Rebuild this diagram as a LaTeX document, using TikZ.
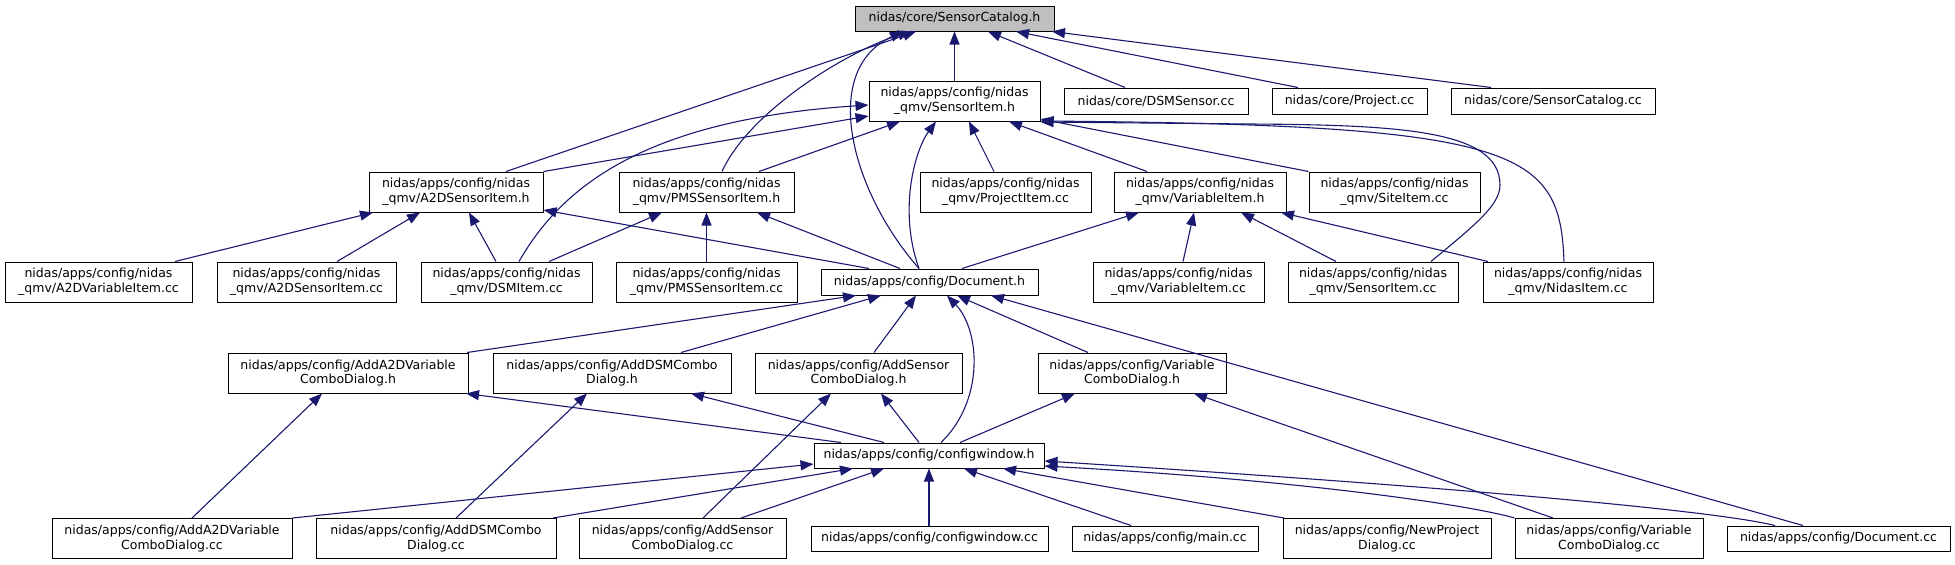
\documentclass[tikz,border=0pt]{standalone}
\usepackage{fontspec}
\newfontfamily\djv{DejaVu Sans}
\usetikzlibrary{arrows.meta}
\definecolor{edgeblue}{HTML}{191970}
\definecolor{grayfill}{HTML}{BFBFBF}
\begin{document}
\begin{tikzpicture}[x=1pt,y=-1pt,
  box/.style={draw=black, line width=1pt, fill=white, inner sep=0pt, align=center,
    font=\djv\fontsize{12.5pt}{14.7pt}\selectfont},
  one/.style={box, minimum height=25pt},
  two/.style={box, minimum height=40pt},
  edge/.style={draw=edgeblue, line width=1.1pt, -{Triangle[length=13pt,width=10pt]}}]
\useasboundingbox (0,0) rectangle (1955,565);
% row 0
\node[one, fill=grayfill, minimum width=199pt] (sc) at (954.5,18.5) {nidas/core/SensorCatalog.h};
% row 1
\node[two, minimum width=171pt] (si) at (954.5,101) {nidas/apps/config/nidas\\\_qmv/SensorItem.h};
\node[box, minimum height=26pt, minimum width=184pt] (dsms) at (1156,101) {nidas/core/DSMSensor.cc};
\node[box, minimum height=26pt, minimum width=155pt] (proj) at (1349.5,101) {nidas/core/Project.cc};
\node[box, minimum height=26pt, minimum width=204pt] (scc) at (1553,101) {nidas/core/SensorCatalog.cc};
% row 2
\node[two, minimum width=174pt] (a2dh) at (456,192) {nidas/apps/config/nidas\\\_qmv/A2DSensorItem.h};
\node[two, minimum width=175pt] (pmsh) at (706.5,192) {nidas/apps/config/nidas\\\_qmv/PMSSensorItem.h};
\node[two, minimum width=171pt] (projitem) at (1005.5,192) {nidas/apps/config/nidas\\\_qmv/ProjectItem.cc};
\node[two, minimum width=172pt] (varh) at (1200,192) {nidas/apps/config/nidas\\\_qmv/VariableItem.h};
\node[two, minimum width=171pt] (site) at (1394.5,192) {nidas/apps/config/nidas\\\_qmv/SiteItem.cc};
% row 3
\node[two, minimum width=187pt] (a2dvcc) at (98.5,282) {nidas/apps/config/nidas\\\_qmv/A2DVariableItem.cc};
\node[two, minimum width=179pt] (a2dscc) at (306.5,282) {nidas/apps/config/nidas\\\_qmv/A2DSensorItem.cc};
\node[two, minimum width=171pt] (dsmcc) at (506.5,282) {nidas/apps/config/nidas\\\_qmv/DSMItem.cc};
\node[two, minimum width=181pt] (pmscc) at (706.5,282) {nidas/apps/config/nidas\\\_qmv/PMSSensorItem.cc};
\node[box, minimum height=26pt, minimum width=217pt] (doch) at (929.5,282) {nidas/apps/config/Document.h};
\node[two, minimum width=171pt] (varcc) at (1178.5,282) {nidas/apps/config/nidas\\\_qmv/VariableItem.cc};
\node[two, minimum width=170pt] (sicc) at (1373,282) {nidas/apps/config/nidas\\\_qmv/SensorItem.cc};
\node[two, minimum width=170pt] (nidascc) at (1568,282) {nidas/apps/config/nidas\\\_qmv/NidasItem.cc};
% row 4
\node[two, minimum width=240pt] (adda2dh) at (348,373) {nidas/apps/config/AddA2DVariable\\ComboDialog.h};
\node[two, minimum width=238pt] (adddsmh) at (612,373) {nidas/apps/config/AddDSMCombo\\Dialog.h};
\node[two, minimum width=207pt] (addsensh) at (858.5,373) {nidas/apps/config/AddSensor\\ComboDialog.h};
\node[two, minimum width=188pt] (varcdh) at (1132,373) {nidas/apps/config/Variable\\ComboDialog.h};
% row 5
\node[one, minimum width=230pt] (cwh) at (929,455.5) {nidas/apps/config/configwindow.h};
% row 6
\node[two, minimum width=240pt] (adda2dcc) at (172,538.5) {nidas/apps/config/AddA2DVariable\\ComboDialog.cc};
\node[two, minimum width=240pt] (adddsmcc) at (436,538.5) {nidas/apps/config/AddDSMCombo\\Dialog.cc};
\node[two, minimum width=207pt] (addsenscc) at (682.5,538.5) {nidas/apps/config/AddSensor\\ComboDialog.cc};
\node[one, minimum width=237pt] (cwcc) at (929.5,538.5) {nidas/apps/config/configwindow.cc};
\node[one, minimum width=186pt] (main) at (1165,538.5) {nidas/apps/config/main.cc};
\node[two, minimum width=208pt] (newproj) at (1387,538.5) {nidas/apps/config/NewProject\\Dialog.cc};
\node[two, minimum width=188pt] (varcdcc) at (1609,538.5) {nidas/apps/config/Variable\\ComboDialog.cc};
\node[one, minimum width=223pt] (doccc) at (1838.5,538.5) {nidas/apps/config/Document.cc};

% edges to SensorCatalog.h
\draw[edge] (a2dh.north -| 506,0) -- (sc.south -| 916,0);
\draw[edge] (pmsh.north -| 722,0) .. controls (750,110) and (850,50) .. (sc.south -| 911,0);
\draw[edge] (doch.north -| 919,0) .. controls (850,190) and (820,70) .. (sc.south -| 903,0);
\draw[edge] (si.north) -- (sc.south);
\draw[edge] (dsms.north -| 1125,0) -- (sc.south -| 988,0);
\draw[edge] (proj.north -| 1298,0) -- (sc.south -| 1016,0);
\draw[edge] (scc.north -| 1491,0) -- (sc.south -| 1052,0);
% edges to SensorItem.h
\draw[edge] (a2dh.north east) -- (si.west |- 0,116);
\draw[edge] (dsmcc.north -| 519,0) .. controls (560,190) and (640,120) .. (si.west |- 0,105);
\draw[edge] (pmsh.north -| 759,0) -- (si.south -| 900,0);
\draw[edge] (doch.north -| 919,0) .. controls (898,210) and (915,150) .. (si.south -| 936,0);
\draw[edge] (projitem.north -| 994,0) -- (si.south -| 969,0);
\draw[edge] (varh.north -| 1147,0) -- (si.south -| 1009,0);
\draw[edge] (site.north west) -- (si.east |- 0,119);
\draw[edge] (sicc.north -| 1431,0) .. controls (1475,225) and (1500,205) .. (1500,185)
  .. controls (1500,130) and (1400,125) .. (1250,124) -- (si.east |- 0,122);
\draw[edge] (nidascc.north -| 1564,0) .. controls (1560,150) and (1520,125) .. (si.east |- 0,121);
% edges to A2DSensorItem.h
\draw[edge] (a2dvcc.north -| 175,0) -- (a2dh.south -| 373,0);
\draw[edge] (a2dscc.north -| 337,0) -- (a2dh.south -| 420,0);
\draw[edge] (dsmcc.north -| 496,0) -- (a2dh.south -| 469,0);
\draw[edge] (doch.north -| 869,0) -- (a2dh.east |- 0,210);
% edges to PMSSensorItem.h
\draw[edge] (dsmcc.north -| 549,0) -- (pmsh.south -| 662,0);
\draw[edge] (pmscc.north) -- (pmsh.south);
\draw[edge] (doch.north -| 900,0) -- (pmsh.south -| 757,0);
% edges to VariableItem.h
\draw[edge] (doch.north -| 962,0) -- (varh.south -| 1139,0);
\draw[edge] (varcc.north -| 1183,0) -- (varh.south -| 1194,0);
\draw[edge] (sicc.north -| 1336,0) -- (varh.south -| 1241,0);
\draw[edge] (nidascc.north -| 1488,0) -- (varh.south -| 1281,0);
% edges to Document.h
\draw[edge] (adda2dh.north -| 467,0) -- (doch.south -| 856,0);
\draw[edge] (adddsmh.north -| 681,0) -- (doch.south -| 881,0);
\draw[edge] (addsensh.north -| 874,0) -- (doch.south -| 916,0);
\draw[edge] (cwh.north -| 941,0) .. controls (985,400) and (980,330) .. (doch.south -| 947,0);
\draw[edge] (varcdh.north -| 1088,0) -- (doch.south -| 957,0);
\draw[edge] (doccc.north -| 1803,0) -- (doch.south -| 991,0);
% edges to dialog headers
\draw[edge] (adda2dcc.north -| 192,0) -- (adda2dh.south -| 322,0);
\draw[edge] (cwh.north -| 841,0) -- (adda2dh.south -| 466,0);
\draw[edge] (adddsmcc.north -| 456,0) -- (adddsmh.south -| 587,0);
\draw[edge] (cwh.north -| 884,0) -- (adddsmh.south -| 691,0);
\draw[edge] (addsenscc.north -| 703,0) -- (addsensh.south -| 831,0);
\draw[edge] (cwh.north -| 919,0) -- (addsensh.south -| 881,0);
\draw[edge] (cwh.north -| 960,0) -- (varcdh.south -| 1075,0);
\draw[edge] (varcdcc.north -| 1553,0) -- (varcdh.south -| 1194,0);
% edges to configwindow.h
\draw[edge] (adda2dcc.north east) -- (cwh.west |- 0,464);
\draw[edge] (adddsmcc.north -| 553,0) -- (cwh.south -| 853,0);
\draw[edge] (addsenscc.north -| 741,0) -- (cwh.south -| 884,0);
\draw[edge] (cwcc.north -| 929,0) -- (cwh.south -| 929,0);
\draw[edge] (main.north -| 1131,0) -- (cwh.south -| 964,0);
\draw[edge] (newproj.north -| 1284,0) -- (cwh.south -| 1003,0);
\draw[edge] (varcdcc.north west) .. controls (1470,505) and (1300,480) .. (cwh.east |- 0,466);
\draw[edge] (doccc.north -| 1775,0) .. controls (1720,512) and (1500,490) .. (cwh.east |- 0,461);
\end{tikzpicture}
\end{document}
